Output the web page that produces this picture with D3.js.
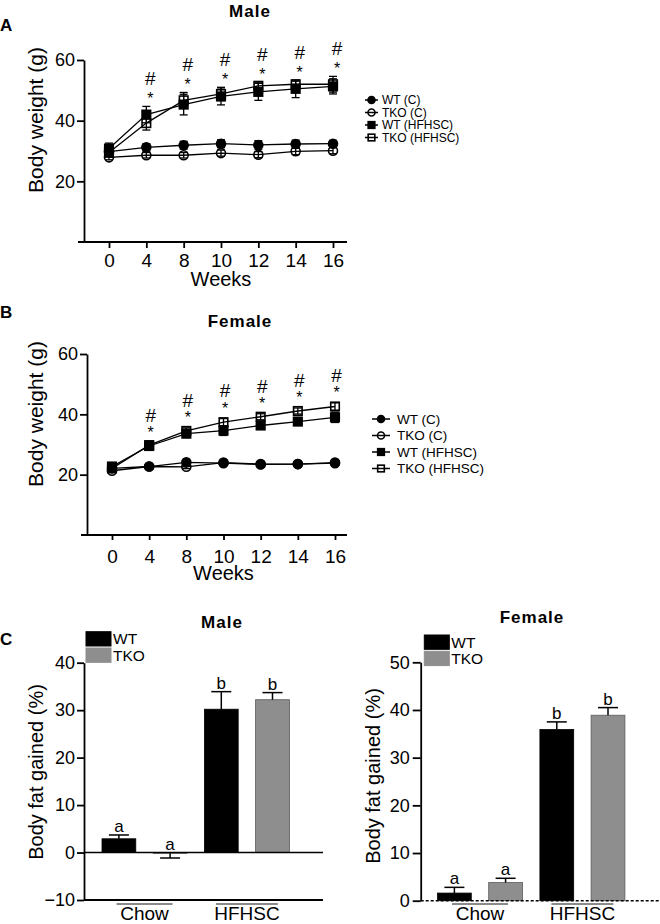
<!DOCTYPE html>
<html><head><meta charset="utf-8">
<script src="https://cdn.jsdelivr.net/npm/d3@7"></script>
<style>
body{margin:0;background:#fff}
svg{display:block}
text{font-family:"Liberation Sans",Arial,Helvetica,sans-serif;fill:#000}
.ax path,.ax line{stroke:#000;stroke-width:1.8}
</style>
</head><body>
<svg id="c" width="660" height="924"></svg>
<script>
// ---------- DATA ----------
const weeks = ["0","4","8","10","12","14","16"];
const seriesNames = ["WT (C)","TKO (C)","WT (HFHSC)","TKO (HFHSC)"];
const seriesShape = ["circle","circle","square","square"];
const seriesFilled = [true,false,true,false];
const lineYTicks = [20,40,60];
const sigWeeks = ["4","8","10","12","14","16"];

// Male body weight (g)
const maleWT_C      = [29.8,31.2,31.9,32.4,32.0,32.3,32.4];
const maleWT_C_err  = [1.5,1.2,1.3,1.3,1.4,1.3,1.1];
const maleTKO_C     = [27.9,28.6,28.6,29.3,28.8,29.9,30.1];
const maleTKO_C_err = [0.8,0.9,0.9,1.0,1.0,1.1,1.0];
const maleWT_HF     = [30.8,42.0,45.3,48.0,49.5,50.5,51.3];
const maleWT_HF_err = [1.8,2.7,3.4,2.8,2.8,2.9,2.5];
const maleTKO_HF    = [29.5,39.2,46.7,48.8,51.5,52.0,52.0];
const maleTKO_HF_err= [1.5,2.3,2.6,2.2,1.2,1.0,2.6];

// Female body weight (g)
const femWT_C      = [22.1,22.7,24.1,23.8,23.4,23.5,24.0];
const femWT_C_err  = [0.5,0.5,0.6,0.5,0.5,0.5,0.5];
const femTKO_C     = [21.3,22.7,22.6,24.0,23.5,23.5,23.8];
const femTKO_C_err = [0.5,0.5,0.6,0.5,0.5,0.5,0.5];
const femWT_HF     = [22.7,29.5,33.6,34.6,36.3,37.6,39.0];
const femWT_HF_err = [0.6,0.8,1.3,1.6,1.0,1.0,1.7];
const femTKO_HF    = [22.1,29.8,34.5,37.4,39.2,41.1,42.6];
const femTKO_HF_err= [0.5,0.7,1.0,1.2,1.0,1.0,1.2];

// Body fat gained (%)
const barKeys    = ["Chow|WT","Chow|TKO","HFHSC|WT","HFHSC|TKO"];
const dietGroups = ["Chow","HFHSC"];
const genotypes  = ["WT","TKO"];
const maleFat      = [2.9,-0.15,30.2,32.2];
const maleFatErr   = [0.8,1.0,3.7,1.5];
const maleLetters  = ["a","a","b","b"];
const maleFatTicks = [-10,0,10,20,30,40];
const femFat       = [1.6,3.8,35.9,38.9];
const femFatErr    = [1.2,0.9,1.6,1.6];
const femLetters   = ["a","a","b","b"];
const femFatTicks  = [0,10,20,30,40,50];

// ---------- DRAW ----------
const svg = d3.select("#c");
const genoColor = {WT:"#000", TKO:"#8e8e8e"};

function marker(g, shape, filled, cx, cy, size) {
  if (shape === "circle") {
    g.append("circle").attr("cx",cx).attr("cy",cy).attr("r",size/2)
      .attr("fill",filled?"#000":"none").attr("stroke","#000").attr("stroke-width",1.6);
  } else {
    const s = size*0.95;
    g.append("rect").attr("x",cx-s/2).attr("y",cy-s/2).attr("width",s).attr("height",s)
      .attr("fill",filled?"#000":"none").attr("stroke","#000").attr("stroke-width",1.6);
  }
}

function linePanel(p) {
  const g = svg.append("g");
  const x = d3.scalePoint().domain(weeks).range(p.xRange);
  const y = d3.scaleLinear().domain([0,60]).range(p.yRange);

  const ya = g.append("g").attr("class","ax").attr("transform",`translate(${p.axisX},0)`)
    .call(d3.axisLeft(y).tickValues(lineYTicks).tickSize(7).tickPadding(2).tickSizeOuter(0));
  ya.selectAll("text").style("font-size","18px");

  const xa = g.append("g").attr("class","ax").attr("transform",`translate(0,${y(0)})`)
    .call(d3.axisBottom(x).tickSize(p.xTick).tickPadding(p.xPad).tickSizeOuter(0));
  xa.select(".domain").remove();
  xa.selectAll("text").style("font-size","19px");
  g.append("line").attr("x1",p.axisX-6).attr("x2",p.xEnd).attr("y1",y(0)).attr("y2",y(0))
    .attr("stroke","#000").attr("stroke-width",1.8);

  const line = d3.line().x((d,i)=>x(weeks[i])).y(d=>y(d));
  p.series.forEach((s,k)=>{
    g.append("path").attr("d",line(s.m)).attr("fill","none").attr("stroke","#000").attr("stroke-width",1.3);
  });
  p.series.forEach((s,k)=>{
    s.m.forEach((m,i)=>{
      const cx = x(weeks[i]), e = s.e[i];
      g.append("line").attr("x1",cx).attr("x2",cx).attr("y1",y(m-e)).attr("y2",y(m+e)).attr("stroke","#000").attr("stroke-width",1.3);
      [m-e,m+e].forEach(v=>g.append("line").attr("x1",cx-4).attr("x2",cx+4).attr("y1",y(v)).attr("y2",y(v)).attr("stroke","#000").attr("stroke-width",1.3));
    });
  });
  p.series.forEach((s,k)=>{
    s.m.forEach((m,i)=>marker(g, seriesShape[k], seriesFilled[k], x(weeks[i]), y(m), 9));
  });

  // significance marks
  sigWeeks.forEach(w=>{
    const i = weeks.indexOf(w);
    const top = d3.max(p.series.slice(2), s=>s.m[i]+s.e[i]);
    const starC = y(top) - p.starGap;
    const hashC = starC - p.hashGap;
    g.append("text").attr("x",x(w)+p.sigDx).attr("y",starC+9).attr("text-anchor","middle").style("font-size","16px").text("*");
    g.append("text").attr("x",x(w)+p.sigDx).attr("y",hashC+6.8).attr("text-anchor","middle").style("font-size","19px").text("#");
  });

  // labels
  g.append("text").attr("x",p.titleX).attr("y",p.titleY).attr("text-anchor","middle")
    .style("font-size","17px").style("font-weight","bold").style("letter-spacing","1px").text(p.title);
  g.append("text").attr("x",0).attr("y",p.letterY).style("font-size","17px").style("font-weight","bold").text(p.letter);
  g.append("text").attr("transform",`translate(${p.ylabX},${p.ylabY}) rotate(-90)`).attr("text-anchor","middle")
    .style("font-size","21px").text("Body weight (g)");
  g.append("text").attr("x",(p.xRange[0]+p.xRange[1])/2).attr("y",p.weeksY).attr("text-anchor","middle")
    .style("font-size","20px").text("Weeks");

  // legend
  seriesNames.forEach((n,k)=>{
    const ly = p.legY + k*p.legStep;
    g.append("line").attr("x1",p.legX).attr("x2",p.legX+p.legLen).attr("y1",ly).attr("y2",ly).attr("stroke","#000").attr("stroke-width",1.5);
    marker(g, seriesShape[k], seriesFilled[k], p.legX+p.legLen/2, ly, 7);
    g.append("text").attr("x",p.legX+p.legLen+p.legTextGap).attr("y",ly).attr("dy","0.36em").style("font-size",p.legFont+"px").text(n);
  });
}

linePanel({
  xRange:[109,333], yRange:[242,60], axisX:84, xEnd:347, xTick:6, xPad:6,
  series:[{m:maleWT_C,e:maleWT_C_err},{m:maleTKO_C,e:maleTKO_C_err},{m:maleWT_HF,e:maleWT_HF_err},{m:maleTKO_HF,e:maleTKO_HF_err}],
  starGap:11, hashGap:17, sigDx:4,
  title:"Male", titleX:250, titleY:17, letter:"A", letterY:31,
  ylabX:43, ylabY:120, weeksY:286,
  legX:365, legY:100, legStep:12.5, legLen:13, legTextGap:4, legFont:12
});
linePanel({
  xRange:[112,335], yRange:[535,354], axisX:87, xEnd:347, xTick:5, xPad:10,
  series:[{m:femWT_C,e:femWT_C_err},{m:femTKO_C,e:femTKO_C_err},{m:femWT_HF,e:femWT_HF_err},{m:femTKO_HF,e:femTKO_HF_err}],
  starGap:14, hashGap:14, sigDx:1.5,
  title:"Female", titleX:240, titleY:327, letter:"B", letterY:318,
  ylabX:43, ylabY:414, weeksY:580,
  legX:372, legY:419, legStep:16.5, legLen:18, legTextGap:7, legFont:13.5
});

function barPanel(p) {
  const g = svg.append("g");
  const x = d3.scaleBand().domain(barKeys).range(p.xRange).paddingInner(0.34).paddingOuter(0.17);
  const y = d3.scaleLinear().domain(p.domain).range(p.yRange);

  const ya = g.append("g").attr("class","ax").attr("transform",`translate(${p.axisX},0)`)
    .call(d3.axisLeft(y).tickValues(p.ticks).tickSize(p.tickSize).tickPadding(p.tickPad).tickSizeOuter(0));
  ya.selectAll("text").style("font-size","18px");

  // bars
  barKeys.forEach((k,i)=>{
    const geno = k.split("|")[1];
    const v = p.vals[i];
    g.append("rect").attr("x",x(k)).attr("width",x.bandwidth())
      .attr("y",y(Math.max(v,0))).attr("height",Math.max(Math.abs(y(v)-y(0)),0.8))
      .attr("fill",genoColor[geno]).attr("stroke",geno==="TKO"?"#5a5a5a":"#000").attr("stroke-width",0.8);
    const cx = x(k)+x.bandwidth()/2;
    const end = v>=0 ? v+p.errs[i] : v-p.errs[i];
    g.append("line").attr("x1",cx).attr("x2",cx).attr("y1",y(v)).attr("y2",y(end)).attr("stroke","#000").attr("stroke-width",1.5);
    g.append("line").attr("x1",cx-10).attr("x2",cx+10).attr("y1",y(end)).attr("y2",y(end)).attr("stroke","#000").attr("stroke-width",1.5);
    const topV = v>=0 ? v+p.errs[i] : 0;
    g.append("text").attr("x",cx).attr("y",y(topV)-3).attr("text-anchor","middle").style("font-size","17px").text(p.letters[i]);
  });

  // baseline
  const bl = g.append("line").attr("x1",p.axisX).attr("x2",p.baseEnd).attr("y1",y(0)).attr("y2",y(0))
    .attr("stroke","#000").attr("stroke-width",1.6);
  if (p.dotted) bl.attr("stroke-dasharray","3,2");
  if (p.domain[0] < 0) {
    g.append("line").attr("x1",p.axisX).attr("x2",p.baseEnd).attr("y1",y(p.domain[0])).attr("y2",y(p.domain[0]))
      .attr("stroke","#000").attr("stroke-width",1.8);
  }

  // group labels
  dietGroups.forEach((d,j)=>{
    const c1 = x(d+"|WT")+x.bandwidth()/2, c2 = x(d+"|TKO")+x.bandwidth()/2;
    const mid = (c1+c2)/2;
    const hw = d==="Chow" ? 28 : 31;
    g.append("line").attr("x1",mid-hw).attr("x2",mid+hw).attr("y1",904).attr("y2",904).attr("stroke","#8a8a8a").attr("stroke-width",2);
    g.append("text").attr("x",mid).attr("y",920).attr("text-anchor","middle").style("font-size","19px").text(d);
  });

  // legend
  genotypes.forEach((gn,k)=>{
    const ry = p.legY + k*16.3;
    g.append("rect").attr("x",p.legX).attr("y",ry).attr("width",25).attr("height",14.3)
      .attr("fill",genoColor[gn]).attr("stroke",gn==="TKO"?"#8e8e8e":"#000");
    g.append("text").attr("x",p.legX+27).attr("y",ry+7.2).attr("dy","0.36em").style("font-size","15.5px").text(gn);
  });

  g.append("text").attr("x",p.titleX).attr("y",p.titleY).attr("text-anchor","middle")
    .style("font-size","17px").style("font-weight","bold").style("letter-spacing","1px").text(p.title);
  g.append("text").attr("transform",`translate(${p.ylabX},${p.ylabY}) rotate(-90)`).attr("text-anchor","middle")
    .style("font-size","20px").text("Body fat gained (%)");
}

barPanel({
  xRange:[93.3,298.1], domain:[-10,40], yRange:[900,662.7], ticks:maleFatTicks, axisX:84, tickSize:7, tickPad:2,
  vals:maleFat, errs:maleFatErr, letters:maleLetters, baseEnd:323, dotted:false,
  legX:86, legY:631.7, title:"Male", titleX:222, titleY:628, ylabX:43, ylabY:772
});
barPanel({
  xRange:[428.8,633.6], domain:[0,50], yRange:[900.7,662.3], ticks:femFatTicks, axisX:420.7, tickSize:8, tickPad:3,
  vals:femFat, errs:femFatErr, letters:femLetters, baseEnd:660, dotted:true,
  legX:424.3, legY:635, title:"Female", titleX:532, titleY:623, ylabX:380, ylabY:776
});
svg.append("text").attr("x",0).attr("y",645).style("font-size","17px").style("font-weight","bold").text("C");
</script>
</body></html>
